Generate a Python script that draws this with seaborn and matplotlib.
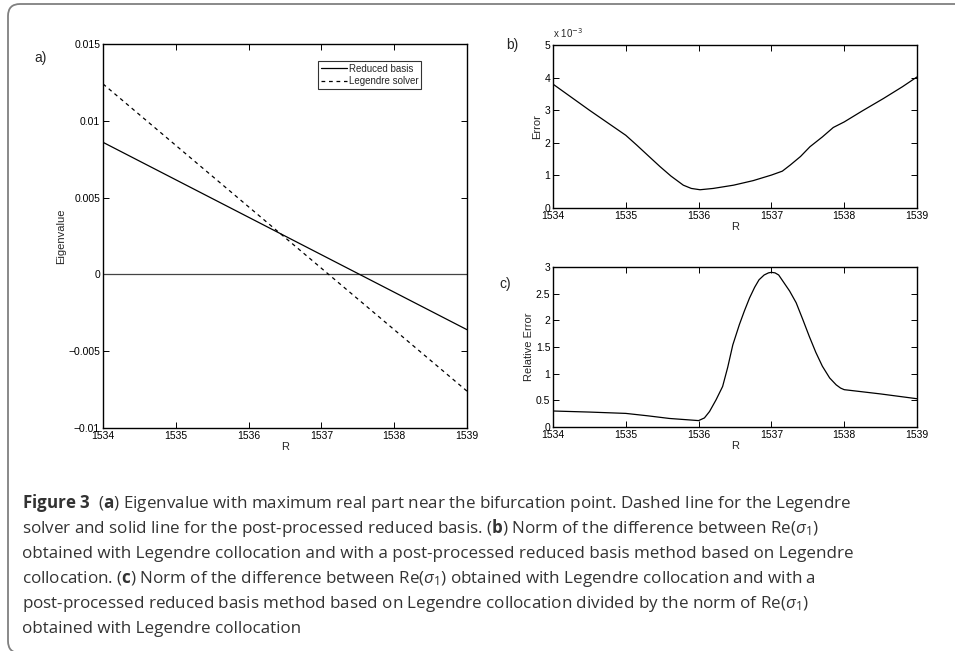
import numpy as np
import pandas as pd
import matplotlib
matplotlib.use("Agg")
import matplotlib.pyplot as plt
import seaborn as sns
from matplotlib.patches import FancyBboxPatch
from matplotlib import font_manager

# ---------------- data ----------------
R_ends = [1534, 1539]
reduced_basis = [0.0086, -0.0036]
legendre_solver = [0.0124, -0.0076]

R_b = [1534.0, 1534.5, 1535.0, 1535.15, 1535.3, 1535.47, 1535.62, 1535.79, 1535.9, 1536.02,
       1536.2, 1536.48, 1536.75, 1537.0, 1537.15, 1537.26, 1537.4, 1537.53, 1537.7, 1537.85,
       1538.0, 1538.25, 1538.54, 1538.8, 1539.0]
error_b_e3 = [3.80, 3.00, 2.23, 1.93, 1.62, 1.27, 0.98, 0.70, 0.60, 0.56,
              0.60, 0.70, 0.84, 1.01, 1.13, 1.32, 1.58, 1.88, 2.18, 2.47,
              2.64, 2.98, 3.36, 3.72, 4.02]

R_c = [1534.0, 1534.5, 1535.0, 1535.3, 1535.6, 1536.0, 1536.08, 1536.15, 1536.24, 1536.33,
       1536.4, 1536.47, 1536.56, 1536.63, 1536.7, 1536.77, 1536.83, 1536.9, 1536.96, 1537.0,
       1537.05, 1537.1, 1537.16, 1537.25, 1537.34, 1537.43, 1537.52, 1537.61, 1537.7, 1537.8,
       1537.89, 1537.95, 1538.0, 1538.5, 1539.0]
rel_error_c = [0.30, 0.28, 0.255, 0.21, 0.16, 0.12, 0.17, 0.29, 0.51, 0.76,
               1.12, 1.54, 1.92, 2.18, 2.42, 2.62, 2.76, 2.85, 2.89, 2.90,
               2.89, 2.85, 2.73, 2.55, 2.33, 2.02, 1.70, 1.40, 1.14, 0.92,
               0.79, 0.73, 0.70, 0.62, 0.53]

x_ticks = [1534, 1535, 1536, 1537, 1538, 1539]
a_yticks = [-0.01, -0.005, 0, 0.005, 0.01, 0.015]
a_yticklabels = ["\u22120.01", "\u22120.005", "0", "0.005", "0.01", "0.015"]
b_yticks = [0, 1, 2, 3, 4, 5]
c_yticks = [0, 0.5, 1, 1.5, 2, 2.5, 3]
c_yticklabels = ["0", "0.5", "1", "1.5", "2", "2.5", "3"]

caption_lines = [
    r"$\mathbf{Figure\ 3}$  ($\mathbf{a}$) Eigenvalue with maximum real part near the bifurcation point. Dashed line for the Legendre",
    r"solver and solid line for the post-processed reduced basis. ($\mathbf{b}$) Norm of the difference between Re($\sigma_1$)",
    r"obtained with Legendre collocation and with a post-processed reduced basis method based on Legendre",
    r"collocation. ($\mathbf{c}$) Norm of the difference between Re($\sigma_1$) obtained with Legendre collocation and with a",
    r"post-processed reduced basis method based on Legendre collocation divided by the norm of Re($\sigma_1$)",
    r"obtained with Legendre collocation",
]

# ---------------- style ----------------
sns.set_style("ticks")
plt.rcParams["font.family"] = ["Liberation Sans", "DejaVu Sans"]

names = {f.name for f in font_manager.fontManager.ttflist}
cap_font = "Liberation Sans Narrow" if "Liberation Sans Narrow" in names else "Open Sans"
plt.rcParams["mathtext.fontset"] = "custom"
plt.rcParams["mathtext.rm"] = cap_font
plt.rcParams["mathtext.it"] = cap_font + ":italic"
plt.rcParams["mathtext.bf"] = cap_font + ":bold"

W, H = 955, 651
fig = plt.figure(figsize=(W / 100, H / 100), dpi=100)

def fx(px):
    return px / W

def fy(py):
    return 1 - py / H

def make_ax(l, t, r, b):
    return fig.add_axes([fx(l), fy(b), fx(r) - fx(l), fy(t) - fy(b)])

def style_ax(ax):
    ax.tick_params(direction="in", top=True, right=True, length=4, width=0.7,
                   labelsize=7.5, pad=2, colors="black")
    for s in ax.spines.values():
        s.set_visible(True)
        s.set_linewidth(1.0)
        s.set_color("black")
    ax.set_xlim(1534, 1539)
    ax.set_xticks(x_ticks)
    ax.set_xticklabels([str(t) for t in x_ticks])
    ax.set_xlabel("R", fontsize=8, labelpad=1)

# ---------------- panel a ----------------
ax_a = make_ax(103, 44, 467, 428)
df_a = pd.DataFrame({
    "R": R_ends * 2,
    "val": reduced_basis + legendre_solver,
    "series": ["Reduced basis"] * 2 + ["Legendre solver"] * 2,
})
sns.lineplot(data=df_a, x="R", y="val", hue="series", style="series",
             palette={"Reduced basis": "black", "Legendre solver": "black"},
             dashes={"Reduced basis": "", "Legendre solver": (3, 3)},
             linewidth=0.9, ax=ax_a)
ax_a.axhline(0, color="#444444", lw=0.9, zorder=1)
style_ax(ax_a)
ax_a.set_ylim(-0.01, 0.015)
ax_a.set_yticks(a_yticks)
ax_a.set_yticklabels(a_yticklabels)
ax_a.set_ylabel("Eigenvalue", fontsize=8, labelpad=1.5)
leg = ax_a.legend(loc="upper right", bbox_to_anchor=(0.874, 0.956), borderaxespad=0,
                  fontsize=7, frameon=True, fancybox=False, handlelength=2.6,
                  handletextpad=0.2, borderpad=0.3, labelspacing=0.25)
leg.get_frame().set_edgecolor("black")
leg.get_frame().set_linewidth(0.8)

# ---------------- panel b ----------------
ax_b = make_ax(553, 45, 917, 208)
sns.lineplot(x=R_b, y=error_b_e3, color="black", linewidth=0.9, ax=ax_b)
style_ax(ax_b)
ax_b.set_ylim(0, 5)
ax_b.set_yticks(b_yticks)
ax_b.set_yticklabels([str(t) for t in b_yticks])
ax_b.set_ylabel("Error", fontsize=8, labelpad=1.5)
fig.text(fx(553), fy(38), r"x 10$^{-3}$", fontsize=7, ha="left", va="baseline",
         family=["Liberation Sans"], math_fontfamily="dejavusans")

# ---------------- panel c ----------------
ax_c = make_ax(553, 267, 917, 427)
sns.lineplot(x=R_c, y=rel_error_c, color="black", linewidth=0.9, ax=ax_c)
style_ax(ax_c)
ax_c.set_ylim(0, 3)
ax_c.set_yticks(c_yticks)
ax_c.set_yticklabels(c_yticklabels)
ax_c.set_ylabel("Relative Error", fontsize=8, labelpad=1.5)

# panel letters
fig.text(fx(34), fy(58), "a)", fontsize=10, ha="left", va="center")
fig.text(fx(506), fy(45), "b)", fontsize=10, ha="left", va="center")
fig.text(fx(499), fy(284), "c)", fontsize=10, ha="left", va="center")

# ---------------- caption ----------------
baselines = [508, 533, 558, 583, 608, 633]
cap_texts = []
for txt, yy in zip(caption_lines, baselines):
    t = fig.text(fx(22), fy(yy), txt, fontsize=12, family=[cap_font], color="#333333",
                 ha="left", va="baseline")
    cap_texts.append(t)
fig.canvas.draw()
rend = fig.canvas.get_renderer()
w0 = cap_texts[0].get_window_extent(rend).width
new_fs = 12 * (848 - 22) / w0
for t in cap_texts:
    t.set_fontsize(new_fs)

# frame (rounded corners, drawn in inches)
r_in = 0.12
frame = FancyBboxPatch((8 / 100, -0.02), 11.0, (H - 4) / 100 + 0.02,
                       boxstyle="round,pad=0,rounding_size=%f" % r_in,
                       transform=fig.dpi_scale_trans, fill=False, edgecolor="#808080",
                       linewidth=1.3, clip_on=False)
fig.patches.append(frame)

fig.savefig("out.png", dpi=100)
